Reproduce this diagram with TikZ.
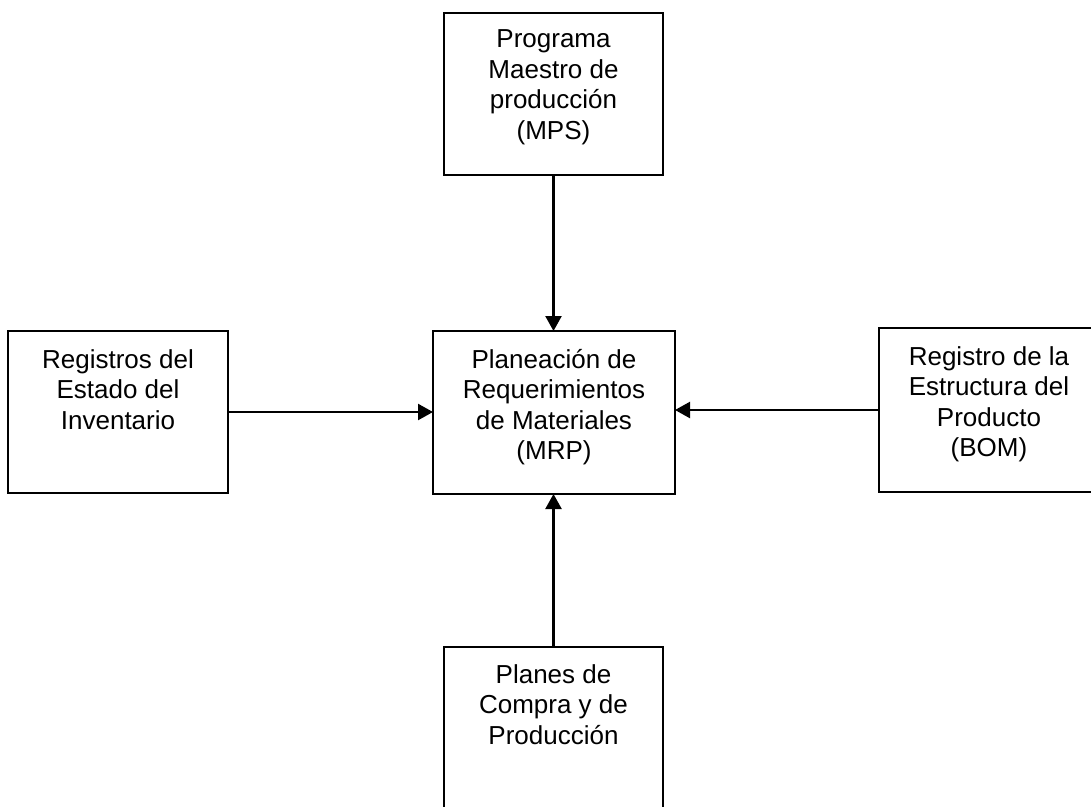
\documentclass[tikz,border=0pt]{standalone}
\usepackage{fontspec}
\setmainfont{Liberation Sans}
\usetikzlibrary{arrows.meta}
\begin{document}
\begin{tikzpicture}[x=1pt,y=-1pt,
  box/.style={draw,line width=2.3pt,inner sep=0pt,outer sep=0pt},
  label/.style={anchor=north,inner sep=0pt,align=center,
    font=\fontsize{26}{30.5}\selectfont},
  flow/.style={line width=2.3pt,-{Triangle[length=15pt,width=16pt]}}]
\useasboundingbox (0,0) rectangle (1091,806);
\clip (0,0) rectangle (1091,806);
\fill[white] (0,0) rectangle (1091,806);

% boxes
\node[box,minimum width=219pt,minimum height=162pt] (mps) at (553.5,94) {};
\node[box,minimum width=242pt,minimum height=163pt] (mrp) at (554,412.5) {};
\node[box,minimum width=220pt,minimum height=162pt] (inv) at (118,412) {};
\node[box,minimum width=220pt,minimum height=164pt] (bom) at (989,410) {};
\node[box,minimum width=219pt,minimum height=163pt] (plan) at (553.5,728.5) {};

% texts
\node[label] (tmps) at (553.5,22.5) {\rule{0pt}{25pt}Programa\\Maestro de\\producción\\(MPS)};
\node[label] (tmrp) at (554,343) {\rule{0pt}{25pt}Planeación de\\Requerimientos\\de Materiales\\(MRP)};
\node[label] (tinv) at (118,343) {\rule{0pt}{25pt}Registros del\\Estado del\\Inventario};
\node[label] (tbom) at (989,340) {\rule{0pt}{25pt}Registro de la\\Estructura del\\Producto\\(BOM)};
\node[label] (tplan) at (553.5,658) {\rule{0pt}{25pt}Planes de\\Compra y de\\Producción};

% connectors
\draw[flow] (mps.south) -- (mrp.north -| mps.south);
\draw[flow] (inv.east) -- (mrp.west |- inv.east);
\draw[flow] (bom.west) -- (mrp.east |- bom.west);
\draw[flow] (plan.north) -- (mrp.south -| plan.north);
\end{tikzpicture}
\end{document}
